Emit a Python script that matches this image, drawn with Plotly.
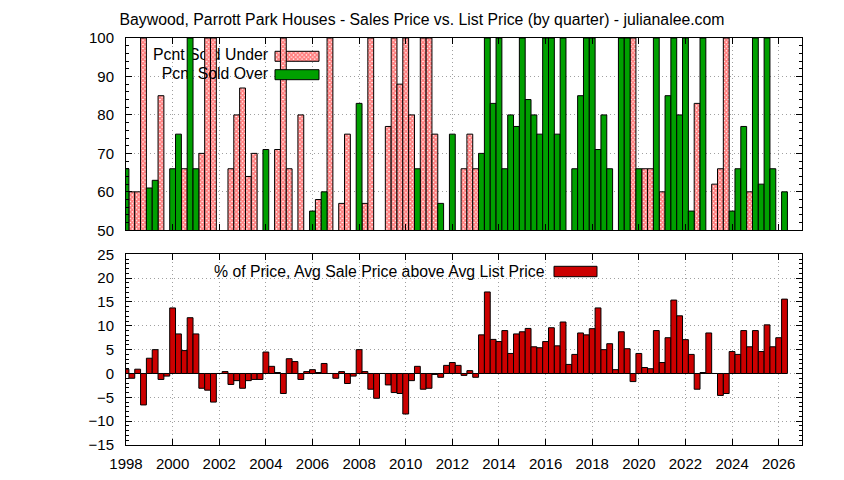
import plotly.graph_objects as go

# ---------------- data ----------------
# quarter start positions, 1998 Q1 .. 2026 Q2
QUARTERS = [y + q / 4 for y in range(1998, 2027) for q in range(4)][:114]

# Percent of houses sold under list price (only values above 50 are visible)
PCT_SOLD_UNDER = [
    None, 60, 60, 100, None, None, 85, None,          # 1998-1999
    None, None, 66, None, None, 70, 100, 100,         # 2000-2001
    None, None, 66, 80, 87, 64, 70, None,             # 2002-2003
    None, None, 71, 100, 66, None, 80, None,          # 2004-2005
    None, 58, None, 100, None, 57, 75, None,          # 2006-2007
    None, 57, 100, None, None, 77, 100, 88,           # 2008-2009
    100, 80, None, 100, 100, 75, None, None,          # 2010-2011
    None, None, 66, 75, 66, None, None, None,         # 2012-2013
    None, None, None, None, None, None, None, None,   # 2014-2015
    None, None, None, None, None, None, None, None,   # 2016-2017
    None, None, None, None, None, None, None, 100,    # 2018-2019
    None, 66, 66, None, 60, None, None, None,         # 2020-2021
    None, None, 83, None, None, 62, 66, 100,          # 2022-2023
    None, None, None, 60, None, None, None, None,     # 2024-2025
    None, None,                                       # 2026
]

# Percent of houses sold over list price (only values above 50 are visible)
PCT_SOLD_OVER = [
    66, None, None, None, 61, 63, None, None,         # 1998-1999
    66, 75, None, 100, 66, None, None, None,          # 2000-2001
    None, None, None, None, None, None, None, None,   # 2002-2003
    71, None, None, None, None, None, None, None,     # 2004-2005
    55, None, 60, None, None, None, None, None,       # 2006-2007
    83, None, None, None, None, None, None, None,     # 2008-2009
    None, None, 66, None, None, None, 57, None,       # 2010-2011
    75, None, None, None, None, 70, 100, 83,          # 2012-2013
    100, 66, 80, 77, 100, 84, 80, 75,                 # 2014-2015
    100, 100, 75, 100, None, 66, 85, 100,             # 2016-2017
    100, 71, 80, 66, None, 100, 100, None,            # 2018-2019
    66, None, None, 100, None, 85, 100, 80,           # 2020-2021
    100, 55, None, 100, None, None, None, None,       # 2022-2023
    55, 66, 77, None, 100, 62, 100, 66,               # 2024-2025
    None, 60,                                         # 2026
]

# % of price, average sale price above average list price
PCT_AVG_ABOVE = [
    0.9, -1.0, 0.9, -6.6, 3.2, 5.0, -1.25, -0.55,     # 1998-1999
    13.75, 8.3, 4.8, 11.7, 8.3, -3.1, -3.5, -6.0,     # 2000-2001
    0, 0.4, -2.3, -1.5, -3.1, -1.5, -1.25, -1.25,     # 2002-2003
    4.5, 1.5, 0.2, -4.2, 3.1, 2.5, -1.25, 0.4,        # 2004-2005
    0.8, 0.2, 2.1, 0, -1.0, 0.4, -2.1, -0.55,         # 2006-2007
    5.0, 0.4, -3.3, -5.2, 0, -2.4, -4.0, -4.2,        # 2008-2009
    -8.5, -1.5, 1.5, -3.3, -3.1, -0.2, -0.8, 1.7,     # 2010-2011
    2.3, 1.7, -0.4, 0.6, -0.8, 8.1, 17.1, 7.15,       # 2012-2013
    6.7, 9.0, 4.2, 8.3, 8.75, 9.45, 5.6, 5.4,         # 2014-2015
    6.7, 9.6, 5.8, 10.8, 1.9, 4.0, 8.5, 8.1,          # 2016-2017
    9.4, 13.75, 5.0, 6.25, 0.8, 8.75, 5.2, -1.7,      # 2018-2019
    4.2, 1.25, 1.0, 9.0, 2.3, 7.5, 15.4, 12.1,        # 2020-2021
    7.1, 4.0, -3.3, 0.2, 8.5, 0, -4.6, -4.2,          # 2022-2023
    4.6, 4.0, 9.0, 5.6, 9.0, 4.6, 10.2, 5.6,          # 2024-2025
    7.5, 15.6,                                        # 2026
]

X_TICKS = list(range(1998, 2027, 2))
TOP_Y_TICKS = [50, 60, 70, 80, 90, 100]
BOT_Y_TICKS = [-15, -10, -5, 0, 5, 10, 15, 20, 25]

TITLE = "Baywood, Parrott Park Houses - Sales Price vs. List Price (by quarter) - julianalee.com"
UNDER_LABEL = "Pcnt Sold Under"
OVER_LABEL = "Pcnt Sold Over"
AVG_LABEL = "% of Price, Avg Sale Price above Avg List Price"

# ---------------- style / layout ----------------
W, H = 844, 480
ML, MR, MT, MB = 126, 42, 38, 35
X_RANGE = [1998, 2027]
TOP_RANGE = [50, 100]
BOT_RANGE = [-15, 25]
TOP_BOTTOM_PX = 230.3
BOT_TOP_PX = 254.3
PLOT_H = H - MT - MB
PLOT_W = W - ML - MR
TOP_DOMAIN = [(H - MB - TOP_BOTTOM_PX) / PLOT_H, 1.0]
BOT_DOMAIN = [0.0, (H - MB - BOT_TOP_PX) / PLOT_H]

FONT = "Liberation Sans"
TICK_SIZE = 15
TEXT_SIZE = 15.8
GREEN = "#00a000"
RED = "#cc0000"
HATCH = dict(shape="x", fgcolor="#ff0000", bgcolor="white", size=3, solidity=0.8)
OUTLINE = dict(color="black", width=1)


def px_to_year(px):
    return X_RANGE[0] + (px - ML) / PLOT_W * (X_RANGE[1] - X_RANGE[0])


def px_to_top(py):
    return TOP_RANGE[1] - (py - MT) / (TOP_BOTTOM_PX - MT) * (TOP_RANGE[1] - TOP_RANGE[0])


def px_to_paper_x(px):
    return (px - ML) / PLOT_W


def px_to_paper_y(py):
    return (H - MB - py) / PLOT_H


fig = go.Figure()

# legend geometry (pixels)
TXT_RIGHT_PX = 268
SW_L_PX, SW_R_PX = 275, 319
ROW1_Y, ROW2_Y = 56.3, 74.7
SW_HALF = 5


def swatch(row_y):
    x0, x1 = px_to_year(SW_L_PX), px_to_year(SW_R_PX)
    y0, y1 = px_to_top(row_y + SW_HALF), px_to_top(row_y - SW_HALF)
    return [x0, x1, x1, x0, x0], [y0, y0, y1, y1, y0]


# layer 1: "under" key (drawn below the under bars, as in the original)
fig.add_trace(go.Scatter(
    x=[px_to_year(TXT_RIGHT_PX)], y=[px_to_top(ROW1_Y)], mode="text",
    text=[UNDER_LABEL], textposition="middle left",
    textfont=dict(family=FONT, size=TEXT_SIZE, color="black"),
    xaxis="x", yaxis="y", showlegend=False, hoverinfo="skip"))
sx, sy = swatch(ROW1_Y)
fig.add_trace(go.Scatter(
    x=sx, y=sy, mode="lines", fill="toself", fillcolor="white",
    fillpattern=HATCH, line=OUTLINE, xaxis="x", yaxis="y",
    showlegend=False, hoverinfo="skip"))

# layer 2: under bars
fig.add_trace(go.Bar(
    x=QUARTERS, y=PCT_SOLD_UNDER, width=0.25,
    marker=dict(color="white", pattern=HATCH, line=OUTLINE),
    xaxis="x", yaxis="y3", showlegend=False, name=UNDER_LABEL))

# layer 3: "over" key
fig.add_trace(go.Scatter(
    x=[px_to_year(TXT_RIGHT_PX)], y=[px_to_top(ROW2_Y)], mode="text",
    text=[OVER_LABEL], textposition="middle left",
    textfont=dict(family=FONT, size=TEXT_SIZE, color="black"),
    xaxis="x", yaxis="y4", showlegend=False, hoverinfo="skip"))
sx, sy = swatch(ROW2_Y)
fig.add_trace(go.Scatter(
    x=sx, y=sy, mode="lines", fill="toself", fillcolor=GREEN,
    line=OUTLINE, xaxis="x", yaxis="y4",
    showlegend=False, hoverinfo="skip"))

# layer 4: over bars
fig.add_trace(go.Bar(
    x=QUARTERS, y=PCT_SOLD_OVER, width=0.25,
    marker=dict(color=GREEN, line=OUTLINE),
    xaxis="x", yaxis="y5", showlegend=False, name=OVER_LABEL))

# bottom panel
fig.add_trace(go.Bar(
    x=QUARTERS, y=PCT_AVG_ABOVE, width=0.25,
    marker=dict(color=RED, line=OUTLINE),
    xaxis="x2", yaxis="y2", showlegend=False, name=AVG_LABEL))

axis_common = dict(
    showline=True, linecolor="black", linewidth=1, mirror="ticks",
    ticks="inside", ticklen=6, tickcolor="black", tickwidth=1,
    showgrid=True, gridcolor="#a0a0a0", griddash="1px,3px", gridwidth=1,
    zeroline=False, automargin=False,
    tickfont=dict(family=FONT, size=TICK_SIZE, color="black"),
)

overlay = dict(overlaying="y", range=TOP_RANGE, visible=False, fixedrange=True)

fig.update_layout(
    width=W, height=H, autosize=False,
    margin=dict(l=ML, r=MR, t=MT, b=MB, pad=0, autoexpand=False),
    paper_bgcolor="white", plot_bgcolor="white",
    font=dict(family=FONT, size=TICK_SIZE, color="black"),
    title=dict(text=TITLE, x=0.5, xref="container", xanchor="center",
               y=1 - 19 / H, yref="container", yanchor="middle",
               font=dict(family=FONT, size=TEXT_SIZE, color="black")),
    bargap=0,
    xaxis=dict(axis_common, range=X_RANGE, tickvals=X_TICKS,
               showticklabels=False, anchor="y"),
    yaxis=dict(axis_common, range=TOP_RANGE, tickvals=TOP_Y_TICKS,
               domain=TOP_DOMAIN, anchor="x", ticklabelstandoff=8,
               minor=dict(dtick=2, ticks="inside", ticklen=3,
                          tickcolor="black", showgrid=False)),
    yaxis3=overlay, yaxis4=overlay, yaxis5=overlay,
    xaxis2=dict(axis_common, range=X_RANGE, tickvals=X_TICKS,
                anchor="y2", ticklabelstandoff=5),
    yaxis2=dict(axis_common, range=BOT_RANGE, tickvals=BOT_Y_TICKS,
                domain=BOT_DOMAIN, anchor="x2", ticklabelstandoff=8,
                minor=dict(dtick=1, ticks="inside", ticklen=3,
                           tickcolor="black", showgrid=False)),
)

# bottom key (text + swatch)
fig.add_annotation(
    text=AVG_LABEL, xref="paper", yref="paper",
    x=px_to_paper_x(547), y=px_to_paper_y(271.7),
    xanchor="right", yanchor="middle", showarrow=False,
    font=dict(family=FONT, size=TEXT_SIZE, color="black"))
fig.add_shape(
    type="rect", xref="paper", yref="paper",
    x0=px_to_paper_x(554), x1=px_to_paper_x(597),
    y0=px_to_paper_y(276.7), y1=px_to_paper_y(266.3),
    fillcolor=RED, line=OUTLINE, layer="above")

fig.write_html(
    "out.html",
    config={"displayModeBar": False, "staticPlot": True},
    post_script="document.body.style.margin='0';document.body.style.padding='0';",
)
